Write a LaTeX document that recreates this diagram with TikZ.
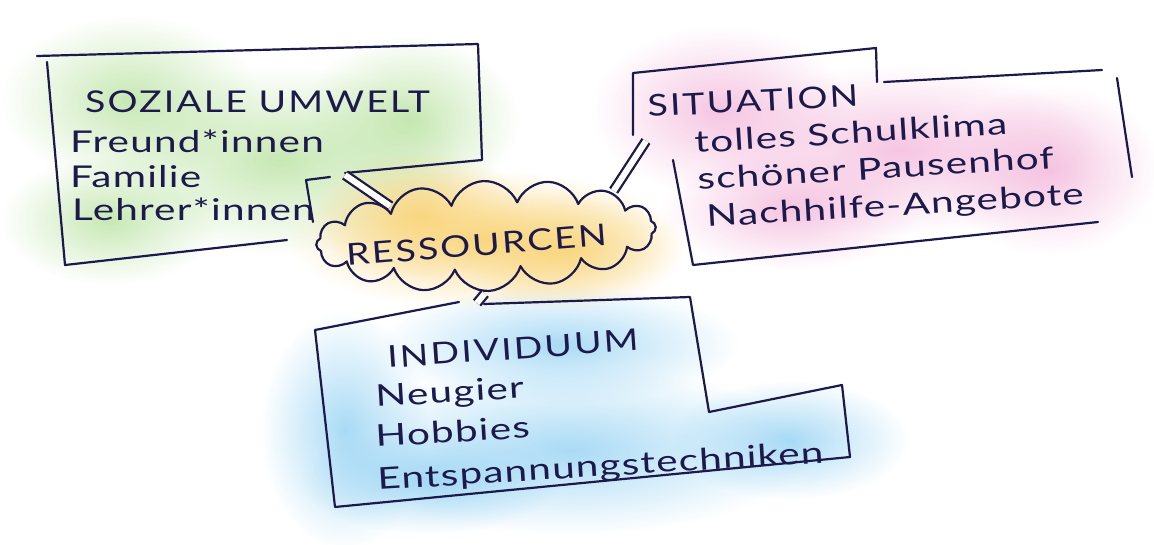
\documentclass[tikz,border=0pt]{standalone}
\usepackage{fontspec}
\setmainfont{Lato}
\newfontfamily\hand[FakeStretch=1.35,LetterSpace=4]{Lato}
\newfontfamily\handcaps[FakeStretch=1.25,LetterSpace=7]{Lato}
\usetikzlibrary{shapes.symbols,fadings}
\definecolor{ink}{HTML}{1C1A4A}
\definecolor{washgreen}{HTML}{B4E09A}
\definecolor{washpink}{HTML}{F2B2D8}
\definecolor{washblue}{HTML}{8CCEF2}
\definecolor{washyellow}{HTML}{F8CF6A}
\tikzfading[name=soft, inner color=transparent!0, outer color=transparent!100]
\tikzset{
  outline/.style={draw=ink, line width=2.2pt, line cap=round, line join=round},
  link/.style={draw=ink, line width=2.3pt, double=white, double distance=6pt, shorten <=2pt},
  wash/.style={path fading=soft, fill opacity=0.75},
  handtext/.style={text=ink, font=\hand\fontsize{30}{33}\selectfont, inner sep=0pt, anchor=base west},
  headtext/.style={handtext, font=\handcaps\fontsize{30}{33}\selectfont},
}
\begin{document}
\begin{tikzpicture}[x=1pt,y=-1pt]
\useasboundingbox (0,0) rectangle (1154,544);
% watercolour washes
\foreach \cx/\cy/\rx/\ry in {130/100/130/85, 410/120/110/85, 110/220/110/65, 280/160/180/95} {
\fill[washgreen, wash] (\cx,\cy) ellipse (\rx pt and \ry pt);
}
\foreach \cx/\cy/\rx/\ry in {720/110/130/85, 900/150/200/85, 1050/170/110/85, 790/210/130/60} {
\fill[washpink, wash] (\cx,\cy) ellipse (\rx pt and \ry pt);
}
\foreach \cx/\cy/\rx/\ry in {345/430/85/120, 560/345/180/60, 790/440/120/60, 570/450/240/85, 430/480/130/55} {
\fill[washblue, wash] (\cx,\cy) ellipse (\rx pt and \ry pt);
}
\foreach \cx/\cy/\rx/\ry in {420/215/110/65, 565/250/120/60, 485/240/200/70} {
\fill[washyellow, wash] (\cx,\cy) ellipse (\rx pt and \ry pt);
}

% boxes
\draw[outline] (345,173)--(482,160)--(478,44)--(37,56);
\draw[outline] (47,62)--(65,265)--(287,240);
\draw[outline] (330,177)--(306,180)--(313,222);
\draw[outline] (633,135)--(633,73)--(876,48)--(877,82);
\draw[outline] (884,82)--(1102,70);
\draw[outline] (1117,78)--(1132,177);
\draw[outline] (673,160)--(693,265)--(1098,222);
\draw[outline] (459,302)--(315,330)--(335,507)--(850,457)--(842,385)--(709,412)--(690,297)--(484,304);

% cloud
\node[cloud, cloud puffs=16, cloud puff arc=140, cloud ignores aspect, outline,
  minimum width=340pt, minimum height=110pt, rotate=3] (cloud) at (486,236) {};
\node[headtext, rotate=4.5] (res) at (347,266) {RESSOURCEN};

% connectors
\coordinate (umwelt-end) at (345,175);
\coordinate (situation-end) at (646,141);
\coordinate (individuum-end) at (477,303);
\draw[link] (cloud.160) -- (umwelt-end);
\draw[link] (cloud.16) -- (situation-end);
\draw[link] (cloud.-93) -- (individuum-end);

% texts
\node[headtext] (umwelt) at (85,112) {SOZIALE UMWELT};
\foreach \n/\x/\y/\t in {umwelt1/70/152/Freund*innen, umwelt2/70/187/Familie, umwelt3/72/220/Lehrer*innen} {
\node[handtext] (\n) at (\x,\y) {\t};
}
\node[headtext, rotate=3] (situation) at (648,117) {SITUATION};
\foreach \n/\x/\y/\t in {situation1/695/153/tolles Schulklima, situation2/698/190/schöner Pausenhof, situation3/707/227/Nachhilfe-Angebote} {
\node[handtext, rotate=3.5] (\n) at (\x,\y) {\t};
}
\node[headtext, rotate=4] (individuum) at (388,368) {INDIVIDUUM};
\foreach \n/\x/\y/\t in {individuum1/376/407/Neugier, individuum2/376/447/Hobbies, individuum3/378/490/Entspannungstechniken} {
\node[handtext, rotate=3.5] (\n) at (\x,\y) {\t};
}
\end{tikzpicture}
\end{document}
